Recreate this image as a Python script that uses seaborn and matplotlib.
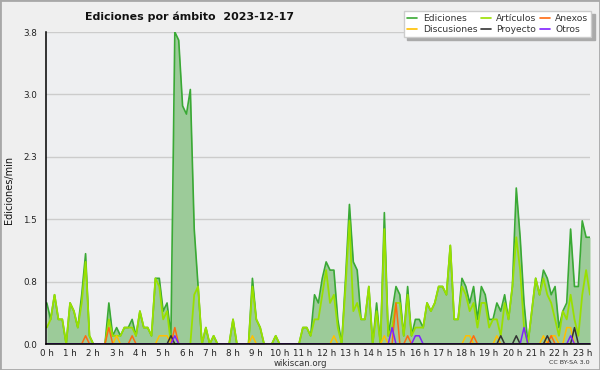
import numpy as np
import pandas as pd
import seaborn as sns
import matplotlib.pyplot as plt
from matplotlib.lines import Line2D
from matplotlib.patches import Rectangle
from matplotlib.ticker import MultipleLocator

# edits per minute, one value per 10-minute slot (0:00 .. 23:20)
ediciones = [
    0.5, 0.3, 0.6, 0.3, 0.3, 0.0, 0.5, 0.4, 0.2, 0.6, 1.1, 0.1,
    0.0, 0.0, 0.0, 0.0, 0.5, 0.1, 0.2, 0.1, 0.2, 0.2, 0.3, 0.1,
    0.4, 0.2, 0.2, 0.1, 0.8, 0.8, 0.4, 0.5, 0.1, 3.8, 3.7, 2.9,
    2.8, 3.1, 1.4, 0.7, 0.0, 0.2, 0.0, 0.1, 0.0, 0.0, 0.0, 0.0,
    0.3, 0.0, 0.0, 0.0, 0.0, 0.8, 0.3, 0.2, 0.0, 0.0, 0.0, 0.1,
    0.0, 0.0, 0.0, 0.0, 0.0, 0.0, 0.2, 0.2, 0.1, 0.6, 0.5, 0.8,
    1.0, 0.9, 0.9, 0.3, 0.0, 0.8, 1.7, 1.0, 0.9, 0.3, 0.3, 0.7,
    0.0, 0.5, 0.0, 1.6, 0.1, 0.4, 0.7, 0.6, 0.1, 0.7, 0.1, 0.3,
    0.3, 0.2, 0.5, 0.4, 0.5, 0.7, 0.7, 0.6, 1.2, 0.3, 0.3, 0.8,
    0.7, 0.5, 0.7, 0.3, 0.7, 0.6, 0.3, 0.3, 0.5, 0.4, 0.6, 0.3,
    0.7, 1.9, 1.3, 0.5, 0.0, 0.4, 0.8, 0.6, 0.9, 0.8, 0.6, 0.7,
    0.2, 0.4, 0.5, 1.4, 0.7, 0.7, 1.5, 1.3, 1.3,
]
articulos = [
    0.2, 0.3, 0.6, 0.3, 0.3, 0.0, 0.5, 0.4, 0.2, 0.5, 1.0, 0.1,
    0.0, 0.0, 0.0, 0.0, 0.3, 0.1, 0.1, 0.1, 0.2, 0.2, 0.2, 0.1,
    0.4, 0.2, 0.2, 0.1, 0.8, 0.7, 0.3, 0.4, 0.0, 0.0, 0.0, 0.0,
    0.0, 0.0, 0.6, 0.7, 0.0, 0.2, 0.0, 0.1, 0.0, 0.0, 0.0, 0.0,
    0.3, 0.0, 0.0, 0.0, 0.0, 0.7, 0.3, 0.2, 0.0, 0.0, 0.0, 0.1,
    0.0, 0.0, 0.0, 0.0, 0.0, 0.0, 0.2, 0.2, 0.1, 0.3, 0.3, 0.6,
    0.9, 0.5, 0.6, 0.2, 0.0, 0.7, 1.5, 0.4, 0.5, 0.3, 0.3, 0.7,
    0.0, 0.4, 0.0, 1.4, 0.1, 0.2, 0.5, 0.5, 0.1, 0.6, 0.1, 0.2,
    0.2, 0.2, 0.5, 0.4, 0.5, 0.7, 0.7, 0.6, 1.2, 0.3, 0.3, 0.7,
    0.6, 0.4, 0.5, 0.2, 0.5, 0.5, 0.2, 0.3, 0.3, 0.1, 0.5, 0.3,
    0.7, 1.3, 0.9, 0.2, 0.0, 0.4, 0.8, 0.6, 0.8, 0.6, 0.5, 0.3,
    0.1, 0.4, 0.3, 0.6, 0.3, 0.1, 0.6, 0.9, 0.6,
]
# sparse series: slots with a non-zero value
anexos_slot = [10, 16, 22, 33, 90, 93, 110, 130]
anexos_val = [0.1, 0.2, 0.1, 0.2, 0.5, 0.1, 0.1, 0.1]
discusiones_slot = [18, 29, 30, 31, 53, 74, 87, 108, 109, 116, 128, 130, 131, 134, 135]
discusiones_val = [0.1, 0.1, 0.1, 0.1, 0.1, 0.1, 0.1, 0.1, 0.1, 0.1, 0.1, 0.1, 0.1, 0.2, 0.2]
proyecto_slot = [32, 117, 121, 129, 136]
proyecto_val = [0.1, 0.1, 0.1, 0.1, 0.2]
otros_slot = [33, 89, 95, 96, 123, 135]
otros_val = [0.1, 0.2, 0.1, 0.1, 0.2, 0.1]

hour_labels = [f"{h} h" for h in range(24)]
y_ticks = [0, 0.76, 1.52, 2.28, 3.04, 3.8]
y_labels = ["0.0", "0.8", "1.5", "2.3", "3.0", "3.8"]

sns.set_theme(style="white")
plt.rcParams["font.family"] = ["DejaVu Sans"]

n = len(ediciones)
df = pd.DataFrame({"slot": np.arange(n), "Ediciones": ediciones, "Artículos": articulos})
for name, slots, vals in [("Anexos", anexos_slot, anexos_val),
                          ("Discusiones", discusiones_slot, discusiones_val),
                          ("Proyecto", proyecto_slot, proyecto_val),
                          ("Otros", otros_slot, otros_val)]:
    col = np.zeros(n)
    col[slots] = vals
    df[name] = col

colors = {
    "Ediciones": "#3aa935",
    "Artículos": "#99e000",
    "Anexos": "#ff6a10",
    "Discusiones": "#ffc000",
    "Proyecto": "#333333",
    "Otros": "#8020ff",
}

fig = plt.figure(figsize=(6, 3.7), dpi=100, facecolor="#efefef")
ax = fig.add_axes([46 / 600, 26 / 370, 544 / 600, 312 / 370])
ax.set_facecolor("#eeeff1")

ax.fill_between(df["slot"], df["Ediciones"], color="#9ccb99", lw=0, zorder=1)
for name, lw, z in [("Ediciones", 1.2, 2), ("Artículos", 1.3, 3), ("Discusiones", 1.1, 4),
                    ("Anexos", 1.1, 5), ("Proyecto", 1.1, 6), ("Otros", 1.1, 7)]:
    sns.lineplot(data=df, x="slot", y=name, ax=ax, color=colors[name], lw=lw, zorder=z)

ax.set_xlim(-0.2, n - 1)
ax.set_ylim(0, 3.8)
ax.set_xticks(np.arange(0, n, 6))
ax.set_xticklabels(hour_labels[: len(np.arange(0, n, 6))])
ax.xaxis.set_minor_locator(MultipleLocator(1))
ax.set_yticks(y_ticks)
ax.set_yticklabels(y_labels)
ax.yaxis.set_minor_locator(MultipleLocator(0.19))
ax.tick_params(axis="both", which="both", direction="out", colors="black",
               labelsize=6.3, labelcolor="#222222", width=0.9)
ax.tick_params(axis="x", which="major", length=3.5, pad=0.2)
ax.tick_params(axis="x", which="minor", length=3.5)
ax.tick_params(axis="y", which="major", length=5, pad=1.5)
ax.tick_params(axis="y", which="minor", length=3)
ax.set_xlabel("")
ax.set_ylabel("")
ax.grid(axis="y", which="major", color="#cccccc", lw=1)
ax.grid(axis="x", visible=False)
for side in ["top", "right"]:
    ax.spines[side].set_visible(False)
for side in ["left", "bottom"]:
    ax.spines[side].set_color("black")
    ax.spines[side].set_linewidth(1.1)
    ax.spines[side].set_zorder(10)

fig.text(85 / 600, 1 - 17 / 370, "Ediciones por ámbito  2023-12-17",
         fontsize=7.9, weight="bold", ha="left", va="center", color="#111111")
fig.text(9 / 600, 1 - 190 / 370, "Ediciones/min", rotation=90,
         fontsize=7, ha="center", va="center", color="#111111")
fig.text(300 / 600, 1 - 363 / 370, "wikiscan.org", fontsize=6.2,
         ha="center", va="center", color="#333333")
fig.text(590 / 600, 1 - 363 / 370, "CC BY-SA 3.0", fontsize=4.6,
         ha="right", va="center", color="#333333")

order = ["Ediciones", "Discusiones", "Artículos", "Proyecto", "Anexos", "Otros"]
handles = [Line2D([], [], color=colors[k], lw=1.2) for k in order]
fig.legend(handles, order, ncol=3, loc="upper left",
           bbox_to_anchor=(404 / 600, 1 - 11 / 370), frameon=True, fancybox=False,
           fontsize=6.6, labelcolor="#333333", handlelength=1.1, handletextpad=0.6,
           columnspacing=0.35, labelspacing=0.2, borderpad=0.35, borderaxespad=0,
           edgecolor="#cccccc", facecolor="white", framealpha=1,
           shadow={"color": "#aaaaaa", "ox": 2.2, "oy": -2.2, "alpha": 1})

fig.patches.append(Rectangle((0, 0), 1, 1, transform=fig.transFigure, fill=False,
                             edgecolor="#a8a8a8", lw=2))

fig.savefig("out.png", dpi=100, facecolor=fig.get_facecolor())
